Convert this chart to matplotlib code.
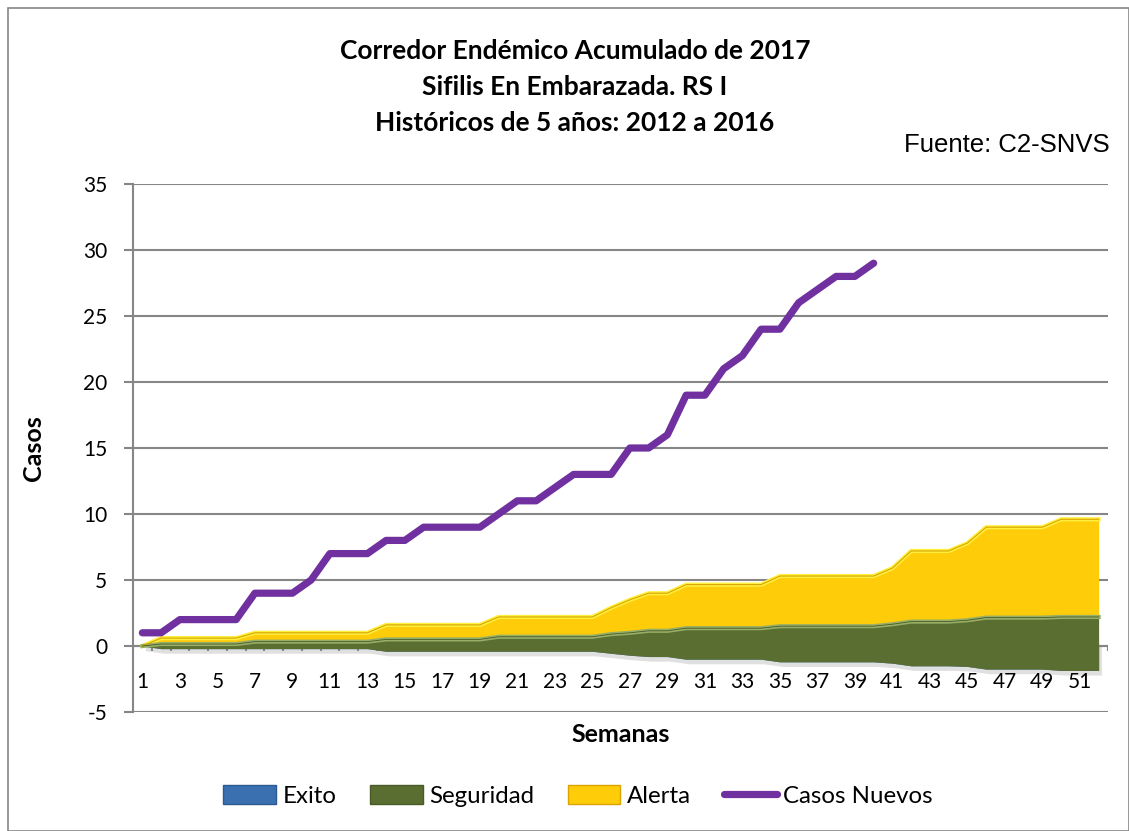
import numpy as np
import matplotlib.pyplot as plt
from matplotlib.patches import Rectangle
from matplotlib.lines import Line2D

plt.rcParams["axes.unicode_minus"] = False

# weeks 1..52
semanas = np.arange(1, 53)

# stacked series (Exito is negative, hidden under Seguridad)
exito = ([0] + [-0.2] * 5 + [-0.2] * 7 + [-0.4] * 6 + [-0.4] * 6 + [-0.55, -0.7]
         + [-0.8] * 2 + [-1.0] * 5 + [-1.2] * 6 + [-1.3] + [-1.5] * 3 + [-1.55]
         + [-1.75] * 4 + [-1.85] * 3)
seguridad = ([0] + [0.35] * 5 + [0.53] * 7 + [0.9] * 6 + [1.1] * 6 + [1.45, 1.7]
             + [1.95] * 2 + [2.35] * 5 + [2.7] * 6 + [2.95] + [3.35] * 3 + [3.5]
             + [3.9] * 4 + [4.05] * 3)
alerta = ([0] + [0.45] * 5 + [0.67] * 7 + [1.1] * 6 + [1.5] * 6 + [2.0, 2.5]
          + [2.85] * 2 + [3.3] * 5 + [3.8] * 6 + [4.25] + [5.35] * 3 + [5.85]
          + [6.85] * 4 + [7.4] * 3)

# cumulative new cases 2017, weeks 1..40
casos_nuevos = [1, 1, 2, 2, 2, 2, 4, 4, 4, 5, 7, 7, 7, 8, 8, 9, 9, 9, 9, 10,
                11, 11, 12, 13, 13, 13, 15, 15, 16, 19, 19, 21, 22, 24, 24, 26,
                27, 28, 28, 29]

titulo = "Corredor Endémico Acumulado de 2017\nSifilis En Embarazada. RS I\nHistóricos de 5 años: 2012 a 2016"

FONT = "Lato"
GRID = "#868686"

fig = plt.figure(figsize=(11.29, 8.31), dpi=100)
ax = fig.add_axes([133 / 1129, 1 - 712 / 831, 975 / 1129, 528 / 831])

# stacking, Excel style (cumulative sums)
b0 = np.array(exito, dtype=float)
b1 = b0 + np.array(seguridad)
b2 = b1 + np.array(alerta)

x = semanas
# soft shadow under the areas
ax.fill_between(x + 0.15, b0 - 0.35, 0, color="#000000", alpha=0.12, lw=0, zorder=1)
ax.fill_between(x, 0, b0, color="#3A70B0", lw=0, zorder=2)
ax.fill_between(x, b1, b2, color="#FFCC0A", lw=0, zorder=3)
ax.fill_between(x, b0, b1, color="#5B6E31", lw=0, zorder=4)
# bevel highlights
ax.plot(x, b2, color="#FFF040", lw=3, zorder=5)
ax.plot(x, b1, color="#97AE66", lw=3, zorder=5)
ax.plot(x, b2, color="#D9A400", lw=0.8, zorder=5)
ax.plot(x, b1, color="#4A5A26", lw=0.6, zorder=5)

ax.plot(np.arange(1, len(casos_nuevos) + 1), casos_nuevos, color="#7030A0",
        lw=5.2, solid_capstyle="round", solid_joinstyle="round", zorder=6)

ax.set_xlim(0.5, 52.5)
ax.set_ylim(-5, 35)
ax.set_yticks(np.arange(-5, 36, 5))
ax.grid(axis="y", color=GRID, lw=1.5, zorder=0)
ax.set_axisbelow(True)
for s in ["top", "right", "bottom"]:
    ax.spines[s].set_visible(False)
ax.spines["left"].set_color(GRID)
ax.spines["left"].set_linewidth(1.5)
ax.tick_params(axis="y", colors=GRID, length=6.5, width=1.5, labelsize=15, pad=12)
for lbl in ax.get_yticklabels():
    lbl.set_color("black")
    lbl.set_fontfamily(FONT)
ax.set_xticks([])

# category axis at y=0
ax.axhline(0, color=GRID, lw=1.5, zorder=2.5)
ax.vlines(np.arange(0.5, 53.5, 1), -0.38, 0, color=GRID, lw=1.5, zorder=2.5)
for w in semanas[::2]:
    ax.text(w, -2.75, str(w), ha="center", va="center", fontsize=15, family=FONT)

ax.set_xlabel("Semanas", fontsize=18, fontweight="bold", family=FONT)
ax.set_ylabel("Casos", fontsize=18, fontweight="bold", family=FONT)
ax.xaxis.label.set_va("center")
ax.yaxis.label.set_va("center")
ax.xaxis.set_label_coords(0.5, -(735 - 712) / 528)
ax.yaxis.set_label_coords(-(133 - 33) / 975, 0.5)

fig.text(575 / 1129, 1 - 87 / 831, titulo, ha="center", va="center", fontsize=19,
         fontweight="bold", family=FONT, linespacing=1.6)
fig.text(1110 / 1129, 1 - 145 / 831, "Fuente: C2-SNVS", ha="right", va="center",
         fontsize=18.5, family="Liberation Sans")

handles = [Rectangle((0, 0), 1, 1, fc="#3A70B0", ec="#2A5A90"),
           Rectangle((0, 0), 1, 1, fc="#5B6E31", ec="#4A5A26"),
           Rectangle((0, 0), 1, 1, fc="#FFCC0A", ec="#D9A400"),
           Line2D([0], [0], color="#7030A0", lw=5.2, solid_capstyle="round")]
fig.legend(handles, ["Exito", "Seguridad", "Alerta", "Casos Nuevos"], loc="center",
           bbox_to_anchor=(578 / 1129, 1 - 796 / 831), ncol=4, frameon=False,
           prop={"family": FONT, "size": 17.3}, handlelength=2.2, handletextpad=0.25,
           columnspacing=1.4, handleheight=0.8)

fig.patches.append(Rectangle((8 / 1129, 0), 1 - 8 / 1129, 1 - 8 / 831, transform=fig.transFigure,
                             fill=False, ec=GRID, lw=1.2))

fig.savefig("out.png", dpi=100)
